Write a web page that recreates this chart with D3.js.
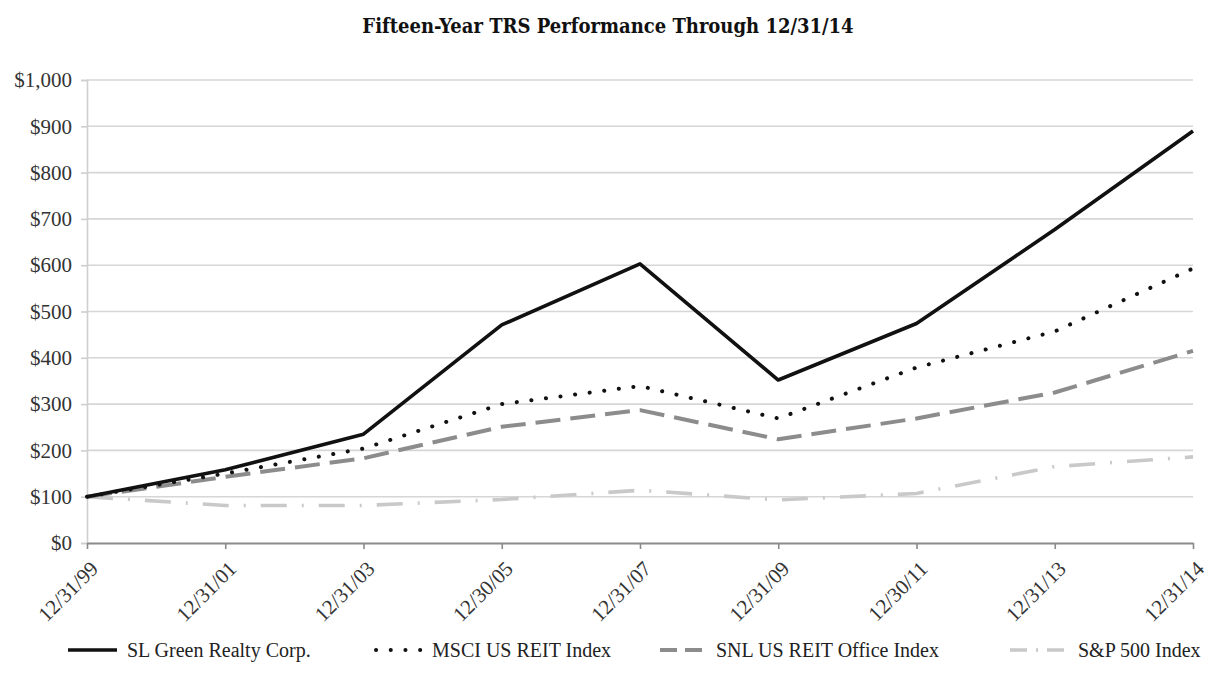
<!DOCTYPE html>
<html><head><meta charset="utf-8">
<script src="https://cdn.jsdelivr.net/npm/d3@7"></script>
<style>
body{margin:0;background:#fff;}
svg{display:block;}
</style></head>
<body>
<svg id="chart" width="1214" height="682"></svg>
<script>
const dates = ["12/31/99","12/31/01","12/31/03","12/30/05","12/31/07","12/31/09","12/30/11","12/31/13","12/31/14"];
const slGreen = [100, 158, 235, 471, 603, 352, 474, 677, 890];
const msciReit = [100, 150, 204, 300, 339, 269, 379, 457, 593];
const snlOffice = [100, 143, 183, 251, 287, 224, 269, 325, 415];
const sp500 = [100, 81, 81, 94, 114, 93, 107, 165, 186];
const yTicks = [0,100,200,300,400,500,600,700,800,900,1000];
const seriesNames = ["SL Green Realty Corp.","MSCI US REIT Index","SNL US REIT Office Index","S&P 500 Index"];

const svg = d3.select("#chart");
const x = d3.scalePoint().domain(dates).range([87, 1193]);
const y = d3.scaleLinear().domain([0, 1000]).range([543, 80]);
const serif = "'Liberation Serif','Times New Roman',serif";

// title
svg.append("text").attr("x", 608).attr("y", 33).attr("text-anchor","middle")
  .attr("font-family","'DejaVu Serif Condensed','DejaVu Serif',serif").attr("font-weight","bold")
  .attr("font-size", 20).attr("fill","#111").text("Fifteen-Year TRS Performance Through 12/31/14");

// gridlines
svg.append("g").selectAll("line").data(yTicks.filter(d=>d>0)).join("line")
  .attr("x1", 87).attr("x2", 1193).attr("y1", d=>y(d)).attr("y2", d=>y(d))
  .attr("stroke","#d6d6d6").attr("stroke-width",1.6);

// y axis
const yAxis = svg.append("g").attr("transform","translate(87,0)")
  .call(d3.axisLeft(y).tickValues(yTicks).tickFormat(d=>"$"+d3.format(",")(d)).tickSize(6).tickPadding(9));
yAxis.select(".domain").attr("stroke","#cfcfcf").attr("stroke-width",1.6);
yAxis.selectAll(".tick line").attr("stroke","#cfcfcf").attr("stroke-width",1.6);
yAxis.selectAll("text").attr("font-family",serif).attr("font-size",21).attr("fill","#333");

// x axis
const xAxis = svg.append("g").attr("transform","translate(0,543)")
  .call(d3.axisBottom(x).tickSize(6).tickSizeOuter(0));
xAxis.select(".domain").attr("stroke","#8a8a8a").attr("stroke-width",2);
xAxis.selectAll(".tick line").attr("stroke","#8a8a8a").attr("stroke-width",1.6);
xAxis.selectAll("text").attr("font-family",serif).attr("font-size",21).attr("fill","#333")
  .attr("text-anchor","end").attr("dy",0).attr("y",0).attr("transform","translate(12,27) rotate(-45)");

const line = d3.line().x((d,i)=>x(dates[i])).y(d=>y(d));
const styles = [
  {data: slGreen, stroke:"#111", width:3.6, dash:null, cap:"butt"},
  {data: msciReit, stroke:"#111", width:4, dash:"0.1,14.6", cap:"round"},
  {data: snlOffice, stroke:"#8c8c8c", width:4, dash:"25,10", cap:"butt"},
  {data: sp500, stroke:"#c9c9c9", width:3.6, dash:"26,15,2,15", cap:"butt"}
];
[3,2,1,0].forEach(k=>{
  const s = styles[k];
  svg.append("path").datum(s.data).attr("d", line).attr("fill","none")
    .attr("stroke", s.stroke).attr("stroke-width", s.width)
    .attr("stroke-dasharray", s.dash).attr("stroke-linecap", s.cap).attr("stroke-linejoin","round");
});

// legend
const legendX = [[68,117,127],[376,422,432],[660,706,716],[1010,1067,1078]];
const lg = svg.append("g");
seriesNames.forEach((n,i)=>{
  const s = styles[i];
  const [a,b,t] = legendX[i];
  lg.append("line").attr("x1",a).attr("x2",b).attr("y1",650).attr("y2",650)
    .attr("stroke",s.stroke).attr("stroke-width",s.width)
    .attr("stroke-dasharray", i===1?"0.1,14.6":(i===2?"17,8":(i===3?"17,9,2,9":null)))
    .attr("stroke-linecap",s.cap);
  lg.append("text").attr("x",t).attr("y",657).attr("font-family",serif).attr("font-size",20)
    .attr("fill","#222").text(n);
});
</script>
</body></html>
